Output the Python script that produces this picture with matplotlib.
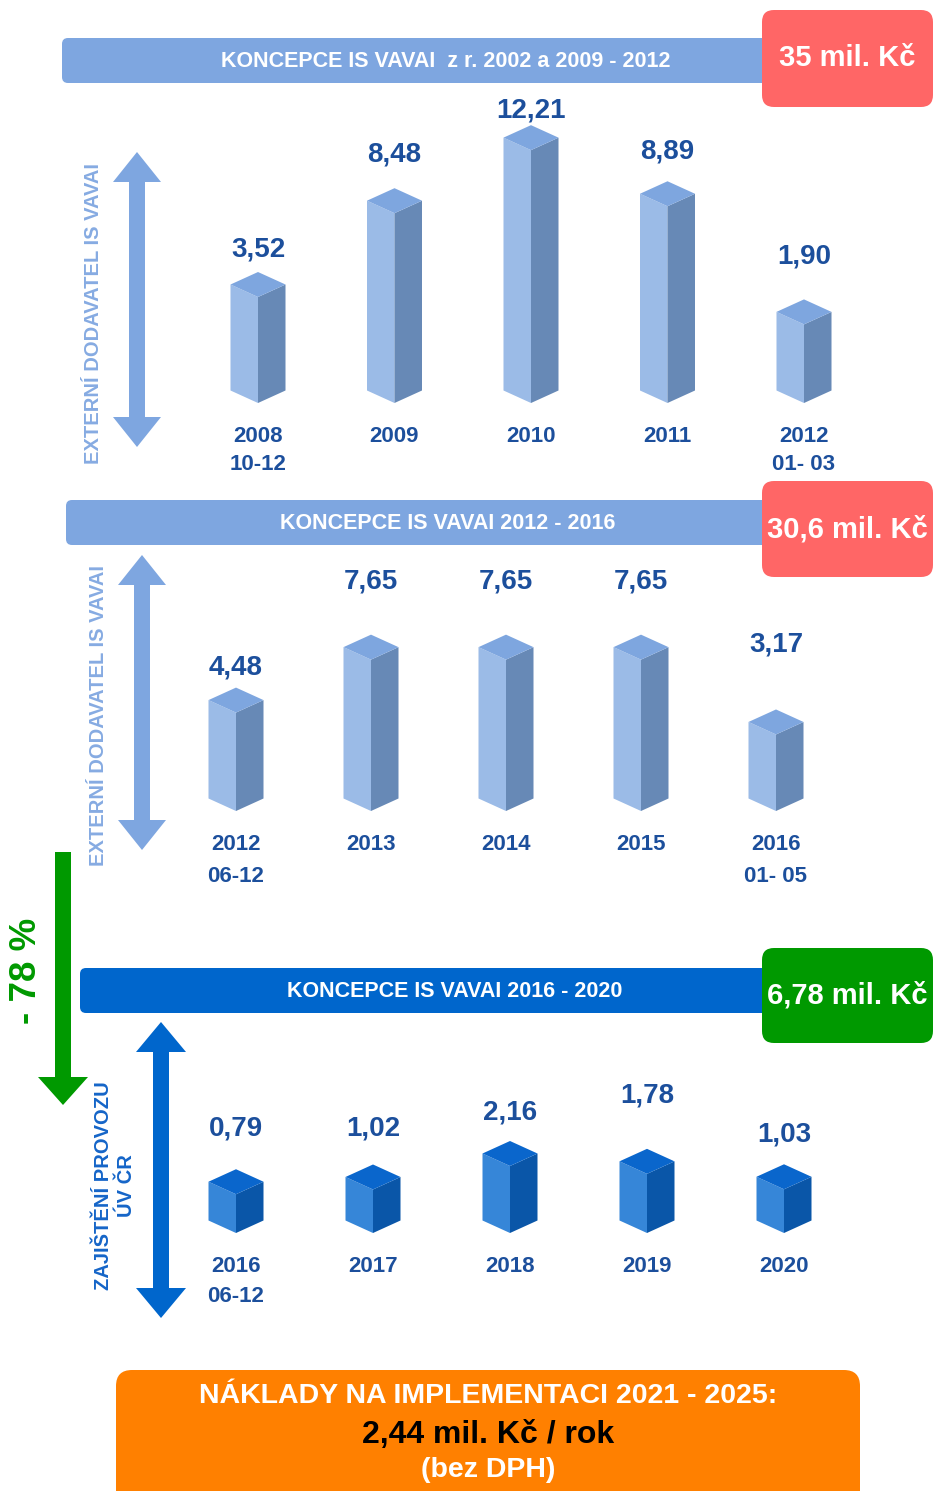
import matplotlib
matplotlib.use("Agg")
import matplotlib.pyplot as plt
from matplotlib.patches import FancyBboxPatch, Polygon
from matplotlib.transforms import blended_transform_factory

plt.rcParams['font.family'] = ['Liberation Sans', 'DejaVu Sans']
plt.rcParams['font.weight'] = 'bold'

# ---------------- data ----------------
cat1 = ['2008\n10-12', '2009', '2010', '2011', '2012\n01- 03']
val1 = [3.52, 8.48, 12.21, 8.89, 1.90]
cat2 = ['2012\n06-12', '2013', '2014', '2015', '2016\n01- 05']
val2 = [4.48, 7.65, 7.65, 7.65, 3.17]
cat3 = ['2016\n06-12', '2017', '2018', '2019', '2020']
val3 = [0.79, 1.02, 2.16, 1.78, 1.03]
titles = ['KONCEPCE IS VAVAI  z r. 2002 a 2009 - 2012',
          'KONCEPCE IS VAVAI 2012 - 2016',
          'KONCEPCE IS VAVAI 2016 - 2020']
totals = ['35 mil. Kč', '30,6 mil. Kč', '6,78 mil. Kč']
side_labels = ['EXTERNÍ DODAVATEL IS VAVAI', 'EXTERNÍ DODAVATEL IS VAVAI',
               'ZAJIŠTĚNÍ PROVOZU\nÚV ČR']
reduction = '- 78 %'
footer = ['NÁKLADY NA IMPLEMENTACI 2021 - 2025:', '2,44 mil. Kč / rok', '(bez DPH)']

# ---------------- layout / style ----------------
W, H = 935, 1491
fig = plt.figure(figsize=(W / 100, H / 100), dpi=100)
fig.patch.set_facecolor('white')
ax = fig.add_axes([0, 0, 1, 1])
ax.set_xlim(0, W)
ax.set_ylim(H, 0)
ax.axis('off')

LBL = '#1c4f9c'
LIGHT = '#7ea6e0'
DARK = '#0066cc'

sections = [
    dict(cats=cat1, vals=val1, x0=258, dx=136.5, yb=403, k=16.9, c=46.5,
         gaps=[23, 34, 15, 30, 43], ylab=436, ysub=465,
         faces=('#9bbbe7', '#6789b6', '#7ea6df'),
         bar=(62, 38, 770, 83), bar_col=LIGHT, box=(762, 10, 933, 107), box_col='#ff6666',
         arrow=(137, 152, 447, 16, 48, 30), arrow_col=LIGHT, side_xy=(94, 313),
         side_col='#86abe2', side_ls=1.0),
    dict(cats=cat2, vals=val2, x0=236, dx=135, yb=811, k=16.7, c=23.6,
         gaps=[20, 53, 53, 53, 65], ylab=844, ysub=876,
         faces=('#9bbbe7', '#6789b6', '#7ea6df'),
         bar=(66, 500, 770, 545), bar_col=LIGHT, box=(762, 481, 933, 577), box_col='#ff6666',
         arrow=(142, 555, 850, 16, 48, 30), arrow_col=LIGHT, side_xy=(99, 716),
         side_col='#86abe2', side_ls=1.0),
    dict(cats=cat3, vals=val3, x0=236, dx=137, yb=1233, k=20.6, c=22.5,
         gaps=[41, 36, 29, 53, 30], ylab=1266, ysub=1296,
         faces=('#3686d8', '#0a56a8', '#0a66cc'),
         bar=(80, 968, 770, 1013), bar_col=DARK, box=(762, 948, 933, 1043), box_col='#009900',
         arrow=(161, 1022, 1318, 16, 50, 30), arrow_col=DARK, side_xy=(115, 1186),
         side_col='#1565c8', side_ls=1.3),
]


def rbox(x0, y0, x1, y1, color, r, z=2):
    p = FancyBboxPatch((x0, y0), x1 - x0, y1 - y0,
                       boxstyle=f"round,pad=0,rounding_size={r}",
                       fc=color, ec='none', zorder=z)
    ax.add_patch(p)


def darrow(cx, ytop, ybot, shaft, hw, hl, color):
    pts = [(cx, ytop), (cx + hw / 2, ytop + hl), (cx + shaft / 2, ytop + hl),
           (cx + shaft / 2, ybot - hl), (cx + hw / 2, ybot - hl), (cx, ybot),
           (cx - hw / 2, ybot - hl), (cx - shaft / 2, ybot - hl),
           (cx - shaft / 2, ytop + hl), (cx - hw / 2, ytop + hl)]
    ax.add_patch(Polygon(pts, closed=True, fc=color, ec='none', zorder=2))


for si, s in enumerate(sections):
    # header bar + total box
    x0b, y0b, x1b, y1b = s['bar']
    rbox(x0b, y0b, x1b, y1b, s['bar_col'], 6, z=2)
    ax.text((x0b + x1b) / 2 + 30, (y0b + y1b) / 2 + 1, titles[si], color='white',
            fontsize=15.5, ha='center', va='center', zorder=3)
    bx0, by0, bx1, by1 = s['box']
    rbox(bx0, by0, bx1, by1, s['box_col'], 12, z=4)
    ax.text((bx0 + bx1) / 2, (by0 + by1) / 2, totals[si], color='white',
            fontsize=21, ha='center', va='center', zorder=5)

    # side arrow + rotated label
    cx, yt, ybt, sh, hw, hl = s['arrow']
    darrow(cx, yt, ybt, sh, hw, hl, s['arrow_col'])
    ax.text(s['side_xy'][0], s['side_xy'][1], side_labels[si], rotation=90,
            color=s['side_col'], fontsize=14.5, ha='center', va='center',
            multialignment='center', linespacing=s['side_ls'])

    # bars in a value-scaled axes
    Hpx = 320
    k, c, yb = s['k'], s['c'], s['yb']
    base = -c / k
    bx = fig.add_axes([0, (H - yb) / H, 1, Hpx / H])
    bx.axis('off')
    bx.set_xlim(-s['x0'] / s['dx'], (W - s['x0']) / s['dx'])
    bx.set_ylim(base, base + Hpx / k)
    w = 27.5 / s['dx']
    d1 = 12.5 / k
    fcol, scol, tcol = s['faces']
    trans_lab = blended_transform_factory(bx.transData, ax.transData)
    for i, v in enumerate(s['vals']):
        front = [(i - w, base + d1), (i, base), (i, v), (i - w, v + d1)]
        side = [(i, base), (i + w, base + d1), (i + w, v + d1), (i, v)]
        top = [(i, v), (i + w, v + d1), (i, v + 2 * d1), (i - w, v + d1)]
        for pts, col in ((front, fcol), (side, scol), (top, tcol)):
            bx.add_patch(Polygon(pts, closed=True, fc=col, ec='none', clip_on=False))
        bx.annotate(f"{v:.2f}".replace('.', ','), xy=(i, v + 2 * d1),
                    xytext=(0, s['gaps'][i] * 0.72), textcoords='offset points',
                    ha='center', va='center', color=LBL, fontsize=20,
                    annotation_clip=False)
        parts = s['cats'][i].split('\n')
        bx.text(i, s['ylab'], parts[0], transform=trans_lab, ha='center',
                va='center', color=LBL, fontsize=16, clip_on=False)
        if len(parts) > 1:
            bx.text(i, s['ysub'], parts[1], transform=trans_lab, ha='center',
                    va='center', color=LBL, fontsize=16, clip_on=False)

# green reduction arrow
GREEN = '#009900'
gx = 63
ax.add_patch(Polygon([(gx - 8, 852), (gx + 8, 852), (gx + 8, 1077), (gx + 25, 1077),
                      (gx, 1105), (gx - 25, 1077), (gx - 8, 1077), (gx - 8, 852)],
                     closed=True, fc=GREEN, ec='none', zorder=2))
ax.text(27, 971, reduction, rotation=90, color=GREEN, fontsize=26.5,
        ha='center', va='center')

# footer box
rbox(116, 1370, 860, 1520, '#ff8000', 16, z=2)
ax.text(488, 1396, footer[0], color='white', fontsize=20.5, ha='center', va='center', zorder=3)
ax.text(488, 1435, footer[1], color='black', fontsize=23, ha='center', va='center', zorder=3)
ax.text(488, 1470, footer[2], color='white', fontsize=20.5, ha='center', va='center', zorder=3)

fig.savefig('out.png', dpi=100, facecolor='white')
